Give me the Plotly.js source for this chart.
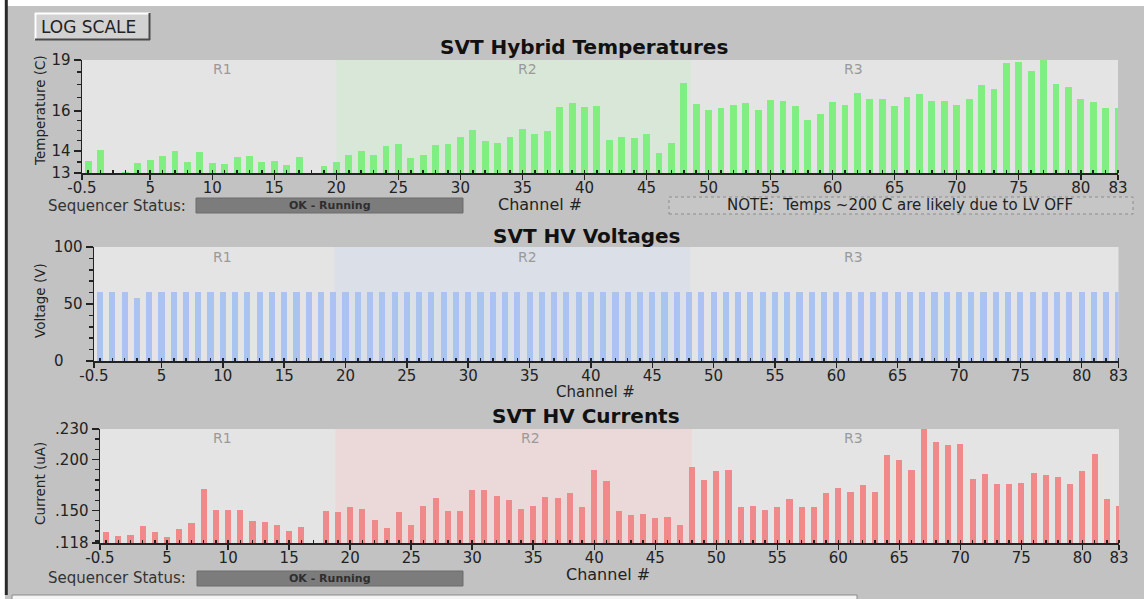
<!DOCTYPE html>
<html>
<head>
<meta charset="utf-8">
<script src="https://cdn.plot.ly/plotly-3.0.1.min.js"></script>
<style>
html,body{margin:0;padding:0;background:#c2c2c2;}
#chart{width:1144px;height:599px;}
</style>
</head>
<body>
<div id="chart"></div>
<script>
// ---------- DATA ----------
const channels = [0,1,2,3,4,5,6,7,8,9,10,11,12,13,14,15,16,17,18,19,20,21,22,23,24,25,26,27,28,29,30,31,32,33,34,35,36,37,38,39,40,41,42,43,44,45,46,47,48,49,50,51,52,53,54,55,56,57,58,59,60,61,62,63,64,65,66,67,68,69,70,71,72,73,74,75,76,77,78,79,80,81,82,83];

const temperatures = [13.55,14.04,null,13.05,13.45,13.6,13.75,14.0,13.5,13.95,
  13.45,13.4,13.7,13.75,13.5,13.55,13.35,13.7,null,13.3,
  13.5,13.8,14.0,13.82,14.23,14.32,13.66,13.82,14.26,14.33,
  14.68,15.02,14.47,14.36,14.68,15.06,14.8,14.97,16.21,16.46,
  16.21,16.28,14.52,14.68,14.63,14.8,13.89,14.36,17.57,16.39,
  16.06,16.19,16.34,16.46,16.06,16.61,16.55,16.28,15.54,15.83,
  16.52,16.34,16.99,16.67,16.67,16.28,16.8,16.93,16.55,16.55,
  16.34,16.67,17.45,17.21,18.83,18.88,18.32,19.3,17.51,17.33,
  16.67,16.52,16.19,16.19];

const voltages = [60.5,60.5,60.5,55.3,60.5,60.5,60.5,60.5,60.5,60.5,
  60.5,60.5,60.5,60.5,60.5,60.5,60.5,60.5,60.5,60.5,
  60.5,60.5,60.5,60.5,60.5,60.5,60.5,60.5,60.5,60.5,
  60.5,60.5,60.5,60.5,60.5,60.5,60.5,60.5,60.5,60.5,
  60.5,60.5,60.5,60.5,60.5,60.5,60.5,60.5,60.5,60.5,
  60.5,60.5,60.5,60.5,60.5,60.5,60.5,60.5,60.5,60.5,
  60.5,60.5,60.5,60.5,60.5,60.5,60.5,60.5,60.5,60.5,
  60.5,60.5,60.5,60.5,60.5,60.5,60.5,60.5,60.5,60.5,
  60.5,60.5,60.5,60.5];

const currents = [0.1289,0.1246,0.1256,0.1345,0.1289,0.1239,0.1322,0.1381,0.1707,0.1503,
  0.1503,0.1503,0.1398,0.1384,0.1355,0.1299,0.1335,null,0.1493,0.1486,
  0.1536,0.151,0.1404,0.1332,0.1483,0.1355,0.1543,0.1618,0.1493,0.1493,
  0.170,0.170,0.1644,0.1602,0.1516,0.1546,0.1628,0.1618,0.1674,0.1536,
  0.1898,0.1792,0.1493,0.1454,0.1464,0.1421,0.1434,0.1355,0.1931,0.1799,
  0.1891,0.1898,0.1536,0.1546,0.1507,0.1536,0.1608,0.1536,0.1536,0.1668,
  0.1717,0.1684,0.175,0.1684,0.2046,0.1997,0.1898,0.235,0.2168,0.2145,
  0.2155,0.1809,0.1859,0.176,0.176,0.1773,0.1872,0.1849,0.1832,0.176,
  0.1891,0.2056,0.1608,0.1546];

const xTickVals = [-0.5,5,10,15,20,25,30,35,40,45,50,55,60,65,70,75,80,83];
const xTickText = ['-0.5','5','10','15','20','25','30','35','40','45','50','55','60','65','70','75','80','83'];
const tempTickVals = [13,14,16,19];
const tempTickText = ['13','14','16','19'];
const tempMinorVals = [13.5,14.5,15,15.5,16.75,17.5,18.25];
const voltTickVals = [0,50,100];
const voltTickText = ['0\u00a0\u00a0\u00a0\u00a0','50','100'];
const currTickVals = [0.118,0.15,0.2,0.23];
const currTickText = ['.118','.150','.200','.230'];
const regionLabels = ['R1','R2','R3'];

// ---------- LAYOUT HELPERS ----------
const W = 1144, H = 599;
const px = x => x / W;
const py = y => 1 - y / H;
const FONT = 'DejaVu Sans, Verdana, sans-serif';
const INK = '#222222';

function xAxis(l, r, anchor) {
  return {
    domain: [px(l), px(r)], anchor: anchor, range: [-0.5, 83],
    tickmode: 'array', tickvals: xTickVals, ticktext: xTickText,
    ticks: 'outside', ticklen: 5, tickwidth: 1.5, tickcolor: INK,
    ticklabelstandoff: -5,
    showline: true, linecolor: INK, linewidth: 1.5,
    showgrid: false, zeroline: false,
    tickfont: {family: FONT, size: 15, color: INK},
    minor: {tickmode: 'linear', tick0: 0, dtick: 1, ticks: 'inside', ticklen: 3, tickwidth: 1.5, tickcolor: INK, showgrid: false},
    fixedrange: true
  };
}
function yAxisBase(t, b, anchor) {
  return {
    domain: [py(b), py(t)], anchor: anchor,
    ticks: 'outside', ticklen: 7, tickwidth: 1.5, tickcolor: INK,
    showline: true, linecolor: INK, linewidth: 1.5,
    showgrid: false, zeroline: false,
    tickfont: {family: FONT, size: 15, color: INK},
    fixedrange: true
  };
}

const yT = Object.assign(yAxisBase(60, 173, 'x'), {
  type: 'log', range: [Math.log10(13), Math.log10(19)],
  tickmode: 'array', tickvals: tempTickVals, ticktext: tempTickText,
  minor: {tickmode: 'array', tickvals: tempMinorVals, ticks: 'outside', ticklen: 4, tickwidth: 1.5, tickcolor: INK, showgrid: false}
});
const yV = Object.assign(yAxisBase(247, 361, 'x2'), {
  range: [0, 100], tickmode: 'array', tickvals: voltTickVals, ticktext: voltTickText,
  minor: {tickmode: 'linear', tick0: 0, dtick: 10, ticks: 'outside', ticklen: 4, tickwidth: 1.5, tickcolor: INK, showgrid: false}
});
const yC = Object.assign(yAxisBase(429, 543, 'x3'), {
  range: [0.118, 0.230], tickmode: 'array', tickvals: currTickVals, ticktext: currTickText,
  minor: {tickmode: 'linear', tick0: 0, dtick: 0.01, ticks: 'outside', ticklen: 4, tickwidth: 1.5, tickcolor: INK, showgrid: false}
});

const traces = [
  {type: 'bar', x: channels, y: temperatures, xaxis: 'x', yaxis: 'y', width: 0.55,
   marker: {color: '#80ee80', line: {width: 0}}, hoverinfo: 'none'},
  {type: 'bar', x: channels, y: voltages, xaxis: 'x2', yaxis: 'y2', width: 0.5,
   marker: {color: '#abc3f0', line: {width: 0}}, hoverinfo: 'none'},
  {type: 'bar', x: channels, y: currents, xaxis: 'x3', yaxis: 'y3', width: 0.5,
   marker: {color: '#f08a8a', line: {width: 0}}, hoverinfo: 'none'}
];

function pRect(x0, y0, x1, y1, fill, line, extra) {
  return Object.assign({type: 'rect', xref: 'paper', yref: 'paper',
    x0: px(x0), x1: px(x1), y0: py(y1), y1: py(y0),
    fillcolor: fill, line: line || {width: 0}, layer: 'below'}, extra || {});
}
function pLine(x0, y0, x1, y1, color, width) {
  return {type: 'line', xref: 'paper', yref: 'paper', x0: px(x0), x1: px(x1), y0: py(y0), y1: py(y1),
    line: {color: color, width: width}, layer: 'above'};
}
function region(xref, yref, a, b, color) {
  return {type: 'rect', xref: xref, yref: yref + ' domain', x0: a, x1: b, y0: 0, y1: 1,
    fillcolor: color, line: {width: 0}, layer: 'below'};
}

const shapes = [
  // window frame
  pRect(0, 0, 1144, 6, '#ffffff'),
  pRect(0, 0, 5, 599, '#ffffff'),
  pLine(6.3, 0, 6.3, 595, '#2a2a2a', 3),
  pRect(12, 595, 857, 601, '#f4f4f4', {color: '#8a8a8a', width: 1}),
  // button
  pRect(35, 13, 150, 40, '#d2d2d2', {width: 0}, {layer: 'above'}),
  pLine(35, 13.5, 150, 13.5, '#ffffff', 2),
  pLine(35.5, 13, 35.5, 40, '#ffffff', 2),
  pLine(35, 39.5, 150, 39.5, '#4a4a4a', 2),
  pLine(149.5, 13, 149.5, 40, '#4a4a4a', 2),
  // R2 regions
  region('x', 'y', 20, 48.6, '#d8e7d8'),
  region('x2', 'y2', 19.1, 48.1, '#dbdfe8'),
  region('x3', 'y3', 18.8, 48.0, '#ebd8d8'),
  // sequencer status bars
  pRect(196, 198, 463, 213, '#7c7c7c', {color: '#6c6c6c', width: 1}),
  pRect(197, 571, 463, 586, '#7c7c7c', {color: '#6c6c6c', width: 1}),
  // note box
  pRect(669, 197, 1133, 214, '#c6c6c6', {color: '#8c8c8c', width: 1, dash: 'dot'})
];

function ann(text, x, y, opts) {
  return Object.assign({text: text, xref: 'paper', yref: 'paper', x: px(x), y: py(y),
    showarrow: false, xanchor: 'center', yanchor: 'middle',
    font: {family: FONT, size: 16, color: INK}}, opts || {});
}
const titleFont = {family: FONT, size: 20, color: '#111111'};
const regFont = {family: FONT, size: 14, color: '#9a9a9a'};
const axTitleFont = {family: FONT, size: 13.5, color: INK};
const seqFont = {family: FONT, size: 15, color: '#333'};
const okFont = {family: FONT, size: 11, color: '#2e2e2e'};

const annotations = [
  ann('LOG SCALE', 88, 26.5, {font: {family: FONT, size: 17, color: '#222'}}),
  ann('<b>SVT Hybrid Temperatures</b>', 583.5, 47, {font: titleFont}),
  ann('<b>SVT HV Voltages</b>', 587, 235.5, {font: titleFont}),
  ann('<b>SVT HV Currents</b>', 586, 416, {font: titleFont}),
  ann('Temperature (C)', 40, 111, {textangle: -90, font: axTitleFont}),
  ann('Voltage (V)', 40, 301, {textangle: -90, font: axTitleFont}),
  ann('Current (uA)', 40, 484, {textangle: -90, font: axTitleFont}),
  ann('Channel #', 540, 205),
  ann('Channel #', 595, 392, {font: {family: FONT, size: 15, color: INK}}),
  ann('Channel #', 608, 574),
  ann('Sequencer Status:', 188, 206, {xanchor: 'right', font: seqFont}),
  ann('Sequencer Status:', 188, 578, {xanchor: 'right', font: seqFont}),
  ann('<b>OK - Running</b>', 329.5, 205.5, {font: okFont}),
  ann('<b>OK - Running</b>', 330, 578.5, {font: okFont}),
  ann('NOTE:  Temps ~200 C are likely due to LV OFF', 900, 205.5, {font: {family: FONT, size: 15, color: '#222'}}),
  ann(regionLabels[0], 222, 69, {font: regFont}),
  ann(regionLabels[1], 527, 69, {font: regFont}),
  ann(regionLabels[2], 853, 69, {font: regFont}),
  ann(regionLabels[0], 222, 256.5, {font: regFont}),
  ann(regionLabels[1], 527, 256.5, {font: regFont}),
  ann(regionLabels[2], 853, 256.5, {font: regFont}),
  ann(regionLabels[0], 222, 438, {font: regFont}),
  ann(regionLabels[1], 530, 438, {font: regFont}),
  ann(regionLabels[2], 853, 438, {font: regFont})
];

const layout = {
  width: W, height: H,
  margin: {l: 0, r: 0, t: 0, b: 0, pad: 0},
  paper_bgcolor: '#c2c2c2', plot_bgcolor: '#e4e4e4',
  showlegend: false, bargap: 0,
  font: {family: FONT, color: INK},
  xaxis: xAxis(82, 1118, 'y'),
  yaxis: yT,
  xaxis2: xAxis(94, 1118.5, 'y2'),
  yaxis2: yV,
  xaxis3: xAxis(100, 1119, 'y3'),
  yaxis3: yC,
  shapes: shapes,
  annotations: annotations
};

Plotly.newPlot('chart', traces, layout, {displayModeBar: false, staticPlot: true});
</script>
</body>
</html>
